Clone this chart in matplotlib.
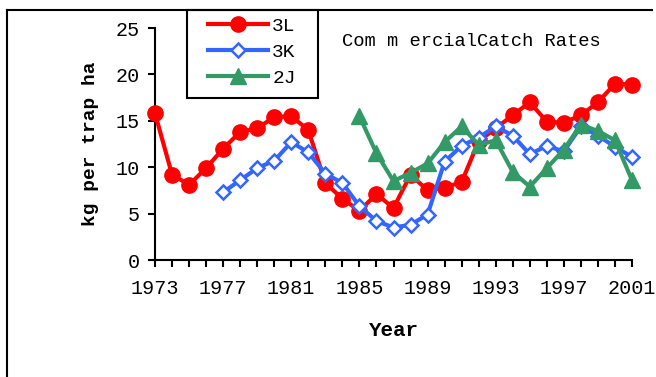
import matplotlib.pyplot as plt
from matplotlib.lines import Line2D
from matplotlib.patches import Rectangle

plt.rcParams['font.family'] = ['Liberation Mono', 'DejaVu Sans']

years = list(range(1973, 2002))
rate_3l = [15.8, 9.2, 8.1, 9.9, 12.0, 13.8, 14.2, 15.4, 15.5, 14.0,
           8.3, 6.6, 5.3, 7.1, 5.6, 9.2, 7.5, 7.8, 8.4, 12.8,
           14.2, 15.6, 17.0, 14.9, 14.8, 15.6, 17.0, 19.0, 18.9]
years_3k = list(range(1977, 2002))
rate_3k = [7.3, 8.6, 9.9, 10.7, 12.7, 11.6, 9.3, 8.3, 5.8, 4.2,
           3.5, 3.8, 4.9, 10.6, 12.3, 13.2, 14.4, 13.4, 11.4, 12.3,
           11.7, 14.4, 13.4, 12.2, 11.1]
years_2j = list(range(1985, 2002))
rate_2j = [15.5, 11.5, 8.5, 9.4, 10.4, 12.7, 14.4, 12.4, 12.9, 9.5,
           7.9, 9.9, 11.9, 14.6, 13.9, 12.9, 8.6]
xticks = list(range(1973, 2002, 4))

fig = plt.figure(figsize=(6.56, 3.77), dpi=100)
ax = fig.add_axes([155/656, 1 - 260/377, 477/656, 232/377])

red = '#FF0000'
blue = '#3366FF'
green = '#339966'

ax.plot(years, rate_3l, color=red, lw=3, marker='o', ms=11, clip_on=False, zorder=3)
ax.plot(years_3k, rate_3k, color=blue, lw=3, marker='D', ms=7.5, mfc='white',
        mew=1.8, clip_on=False, zorder=4)
ax.plot(years_2j, rate_2j, color=green, lw=3, marker='^', ms=11, clip_on=False, zorder=5)

ax.set_xlim(1973, 2001)
ax.set_ylim(0, 25)
ax.set_yticks([0, 5, 10, 15, 20, 25])
ax.set_xticks(years)
ax.set_xticklabels([str(y) if y in xticks else '' for y in years])
ax.tick_params(axis='both', direction='out', width=1.5, length=5, labelsize=14.5)
ax.tick_params(axis='x', pad=9)
ax.tick_params(axis='y', pad=6)
for s in ['top', 'right']:
    ax.spines[s].set_visible(False)
for s in ['left', 'bottom']:
    ax.spines[s].set_linewidth(1.5)

ax.set_xlabel('Year', fontsize=15, fontweight='bold', labelpad=16)
ax.set_ylabel('kg per trap ha', fontsize=14, fontweight='bold', labelpad=12)
ax.text(471/656, 1 - 42/377, 'Com m ercialCatch Rates', transform=fig.transFigure,
        ha='center', va='center', fontsize=13.5)

handles = [
    Line2D([], [], color=red, lw=3, marker='o', ms=11),
    Line2D([], [], color=blue, lw=3, marker='D', ms=7.5, mfc='white', mew=1.8),
    Line2D([], [], color=green, lw=3, marker='^', ms=11),
]
leg = fig.legend(handles, ['3L', '3K', '2J'], loc='upper left',
                 bbox_to_anchor=(208/656, 1 - 17/377), fontsize=14,
                 handlelength=3.1, frameon=False, borderpad=0,
                 borderaxespad=0, labelspacing=0.43, handletextpad=0.2)

# legend box drawn separately so the padding can differ per side
fig.add_artist(Rectangle((187/656, 1 - 98/377), 131/656, 88/377, fill=False,
                         edgecolor='black', lw=1.5, transform=fig.transFigure))

# outer frame, left and top only
fig.add_artist(Line2D([7/656, 7/656], [0, 1 - 10/377], color='black', lw=1.5,
                      transform=fig.transFigure))
fig.add_artist(Line2D([7/656, 652/656], [1 - 10/377, 1 - 10/377], color='black', lw=1.5,
                      transform=fig.transFigure))

fig.savefig('out.png', dpi=100)
